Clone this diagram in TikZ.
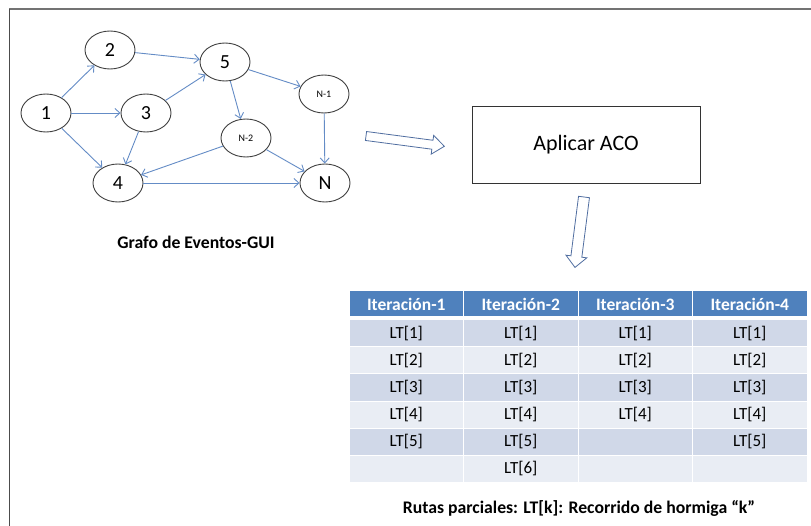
\documentclass[tikz,border=0pt]{standalone}
\usepackage{fontspec}
\setmainfont{Carlito}
\usetikzlibrary{arrows.meta,shapes.geometric}
\definecolor{edgeblue}{RGB}{100,140,198}
\definecolor{headblue}{RGB}{79,129,189}
\definecolor{rowdark}{RGB}{208,216,232}
\definecolor{rowlight}{RGB}{233,237,244}
\definecolor{blockline}{RGB}{80,110,160}
\tikzset{
  ev/.style={draw=black!75, line width=0.9pt, ellipse, minimum width=50pt, minimum height=38pt, inner sep=0pt, font=\fontsize{20}{20}\selectfont},
  evsmall/.style={ev, font=\fontsize{10}{10}\selectfont},
  link/.style={draw=edgeblue, line width=0.9pt, -{Straight Barb[length=5pt,width=9pt]}},
  blockarrow/.style={draw=blockline, line width=0.8pt, fill=white},
  headcell/.style={fill=headblue, draw=white, line width=1pt, minimum width=114.5pt, minimum height=26pt, inner sep=0pt, text=white, font=\bfseries\fontsize{17.5}{18}\selectfont},
  darkcell/.style={fill=rowdark, draw=white, line width=1pt, minimum width=114.5pt, minimum height=27pt, inner sep=0pt, font=\fontsize{17}{17}\selectfont},
  lightcell/.style={darkcell, fill=rowlight},
  caption/.style={font=\bfseries\fontsize{17.7}{18}\selectfont}
}
\begin{document}
\begin{tikzpicture}[x=1pt, y=-1pt]
\useasboundingbox (0,0) rectangle (811,526);
\fill[white] (0,0) rectangle (811,526);
% frame
\draw[black!55, line width=1.6pt] (9,9) -- (811,9);
\draw[black!70, line width=0.8pt] (9,526) -- (9,9);

% event graph
\node[ev] (n1) at (46,113) {1};
\node[ev] (n2) at (110,50) {2};
\node[ev] (n3) at (146,113) {3};
\node[ev] (n5) at (225,62) {5};
\node[evsmall] (nm1) at (324,94) {N-1};
\node[evsmall] (nm2) at (246,138) {N-2};
\node[ev] (n4) at (118,183) {4};
\node[ev] (nn) at (325,183) {N};

\draw[link] (n1) -- (n2);
\draw[link] (n1) -- (n3);
\draw[link] (n1) -- (n4);
\draw[link] (n2) -- (n5);
\draw[link] (n3) -- (n5);
\draw[link] (n3) -- (n4);
\draw[link] (n5) -- (nm1);
\draw[link] (n5) -- (nm2);
\draw[link] (nm2) -- (n4);
\draw[link] (nm2) -- (nn);
\draw[link] (nm1) -- (nn);
\draw[link] (n4) -- (nn);

\node[caption] (gtitle) at (196,242) {Grafo de Eventos-GUI};

% ACO step
\node[draw=black!80, line width=0.8pt, minimum width=228pt, minimum height=77pt, inner sep=0pt,
      font=\fontsize{22}{22}\selectfont] (aco) at (586,144.5) {Aplicar ACO};

% block arrows
\begin{scope}[shift={(366,136)}, rotate=-7.5]
  \draw[blockarrow] (0,-4.5) -- (67,-4.5) -- (67,-9.5) -- (79,0) -- (67,9.5) -- (67,4.5) -- (0,4.5) -- cycle;
\end{scope}
\begin{scope}[shift={(584,197)}, rotate=-97.3]
  \draw[blockarrow] (0,-5.5) -- (60,-5.5) -- (60,-10.5) -- (71,0) -- (60,10.5) -- (60,5.5) -- (0,5.5) -- cycle;
\end{scope}

% partial routes table
\foreach \c in {1,...,4} {
  \node[headcell] (h\c) at ({349+57.25+114.5*(\c-1)},304) {Iteración-\c};
}
\foreach \r/\a/\b/\cc/\d in {1/LT[1]/LT[1]/LT[1]/LT[1],
                              2/LT[2]/LT[2]/LT[2]/LT[2],
                              3/LT[3]/LT[3]/LT[3]/LT[3],
                              4/LT[4]/LT[4]/LT[4]/LT[4],
                              5/LT[5]/LT[5]//LT[5],
                              6//LT[6]//} {
  \pgfmathsetmacro{\yy}{320+13.5+27*(\r-1)}
  \pgfmathtruncatemacro{\odd}{mod(\r,2)}
  \ifnum\odd=1 \def\cellstyle{darkcell}\else\def\cellstyle{lightcell}\fi
  \node[\cellstyle] (c\r-1) at (406.25,\yy) {\a};
  \node[\cellstyle] (c\r-2) at (520.75,\yy) {\b};
  \node[\cellstyle] (c\r-3) at (635.25,\yy) {\cc};
  \node[\cellstyle] (c\r-4) at (749.75,\yy) {\d};
}
\node[caption] (tcaption) at (579,508) {Rutas parciales: LT[k]: Recorrido de hormiga “k”};
\end{tikzpicture}
\end{document}
